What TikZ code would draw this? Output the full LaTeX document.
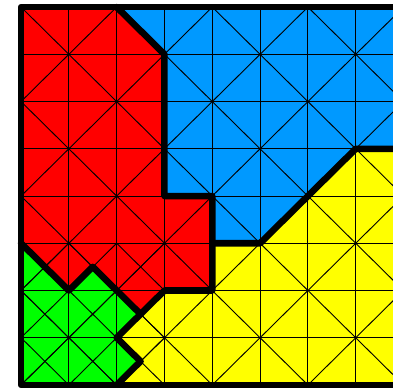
\documentclass[tikz,border=0pt]{standalone}
\usepackage{xcolor}
\definecolor{partred}{RGB}{255,0,0}
\definecolor{partblue}{RGB}{0,153,255}
\definecolor{partyellow}{RGB}{255,255,0}
\definecolor{partgreen}{RGB}{0,255,0}

\begin{document}
\begin{tikzpicture}[
  x=1cm, y=-0.988cm,
  mesh/.style={draw=black, line width=0.55pt},
  cut/.style={draw=black, line width=3.9pt, line join=round, line cap=round}
]
\useasboundingbox (-0.44,-0.15) rectangle (7.78,8.06);
\clip (-0.44,-0.15) rectangle (7.78,8.06);

% subdomains
\fill[partred] (0,0) -- (2,0) -- (3,1) -- (3,4) -- (4,4) -- (4,6) -- (3,6) -- (2.5,6.5) -- (2,6) -- (1.5,5.5) -- (1,6) -- (0,5) -- cycle;
\fill[partblue] (2,0) -- (8,0) -- (8,3) -- (7,3) -- (5,5) -- (4,5) -- (4,4) -- (3,4) -- (3,1) -- cycle;
\fill[partyellow] (7,3) -- (8,3) -- (8,8) -- (2,8) -- (2.5,7.5) -- (2,7) -- (2.5,6.5) -- (3,6) -- (4,6) -- (4,5) -- (5,5) -- cycle;
\fill[partgreen] (0,5) -- (1,6) -- (1.5,5.5) -- (2,6) -- (2.5,6.5) -- (2,7) -- (2.5,7.5) -- (2,8) -- (0,8) -- cycle;

% mesh
\foreach \i in {0,...,8} {
  \draw[mesh] (\i,0) -- (\i,8);
  \draw[mesh] (0,\i) -- (8,\i);
}
\foreach \c in {0,...,7} {
  \foreach \r in {0,...,7} {
    \ifodd\numexpr\c+\r\relax
      \draw[mesh] (\c+1,\r) -- ++(-1,1);
    \else
      \draw[mesh] (\c,\r) -- ++(1,1);
    \fi
  }
}
% refined cells
\foreach \c/\r in {0/5,1/5,2/5,0/6,1/6,2/6,0/7,1/7,2/7} {
  \draw[mesh] (\c,\r) -- ++(1,1);
  \draw[mesh] (\c+1,\r) -- ++(-1,1);
}

% interfaces
\draw[cut] (0,0) rectangle (8,8);
\draw[cut] (2,0) -- (3,1) -- (3,4) -- (4,4) -- (4,6) -- (3,6) -- (2.5,6.5) -- (2,6) -- (1.5,5.5) -- (1,6) -- (0,5);
\draw[cut] (4,5) -- (5,5) -- (7,3) -- (8,3);
\draw[cut] (2.5,6.5) -- (2,7) -- (2.5,7.5) -- (2,8);

\end{tikzpicture}
\end{document}
